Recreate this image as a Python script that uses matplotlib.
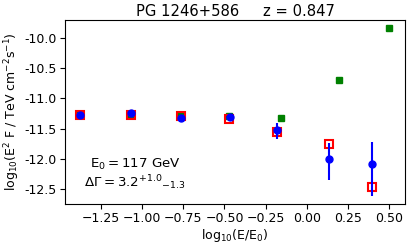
import matplotlib
matplotlib.use("Agg")
import matplotlib.pyplot as plt
import numpy as np

# data
green_x = [-1.376, -1.068, -0.765, -0.47, -0.157, 0.197, 0.50]
green_y = [-11.28, -11.27, -11.29, -11.30, -11.32, -10.70, -9.845]

red_x = [-1.376, -1.068, -0.765, -0.47, -0.179, 0.136, 0.397]
red_y = [-11.278, -11.278, -11.289, -11.344, -11.553, -11.757, -12.463]

blue_x = [-1.376, -1.068, -0.765, -0.465, -0.179, 0.136, 0.393]
blue_y = [-11.28, -11.25, -11.33, -11.305, -11.525, -12.005, -12.088]
blue_err_lo = [0.0, 0.0, 0.0, 0.0, 0.155, 0.345, 0.52]
blue_err_hi = [0.0, 0.0, 0.0, 0.0, 0.11, 0.26, 0.37]

xticks = [-1.25, -1.00, -0.75, -0.50, -0.25, 0.00, 0.25, 0.50]
yticks = [-12.5, -12.0, -11.5, -11.0, -10.5, -10.0]
ytick_labels = ["-12.5", "-12.0", "-11.5", "-11.0", "-10.5", "-10.0"]

fig = plt.figure(figsize=(4.15, 2.47), dpi=100)
ax = fig.add_axes([0.157, 0.174, 0.819, 0.745])

ax.plot(green_x, green_y, 's', color='green', ms=5, zorder=2)
ax.plot(red_x, red_y, 's', mfc='none', mec='red', mew=1.5, ms=6, zorder=3)
ax.errorbar(blue_x, blue_y, yerr=[blue_err_lo, blue_err_hi], fmt='o', color='blue',
            ms=5, elinewidth=1.5, capsize=0, zorder=4)

ax.set_xlim(-1.466, 0.595)
ax.set_ylim(-12.748, -9.707)
ax.set_xticks(xticks)
ax.set_yticks(yticks)
ax.set_yticklabels(ytick_labels)
ax.tick_params(labelsize=9, length=3.5, pad=2.5)

ax.set_xlabel(r"log$_{10}$(E/E$_0$)", fontsize=9, labelpad=1)
ax.set_ylabel(r"log$_{10}$(E$^2$ F / TeV cm$^{-2}$s$^{-1}$)", fontsize=9, labelpad=2)
ax.set_title("PG 1246+586     z = 0.847", fontsize=10.6, pad=3)

ax.text(0.206, 0.217, r"$\mathregular{E_0 = 117\ GeV}$", transform=ax.transAxes,
        ha='center', va='center', fontsize=9.6)
ax.text(0.206, 0.114, r"$\mathregular{\Delta\Gamma = 3.2^{+1.0}{}_{-1.3}}$", transform=ax.transAxes,
        ha='center', va='center', fontsize=9.6)

fig.savefig("out.png", dpi=100)
